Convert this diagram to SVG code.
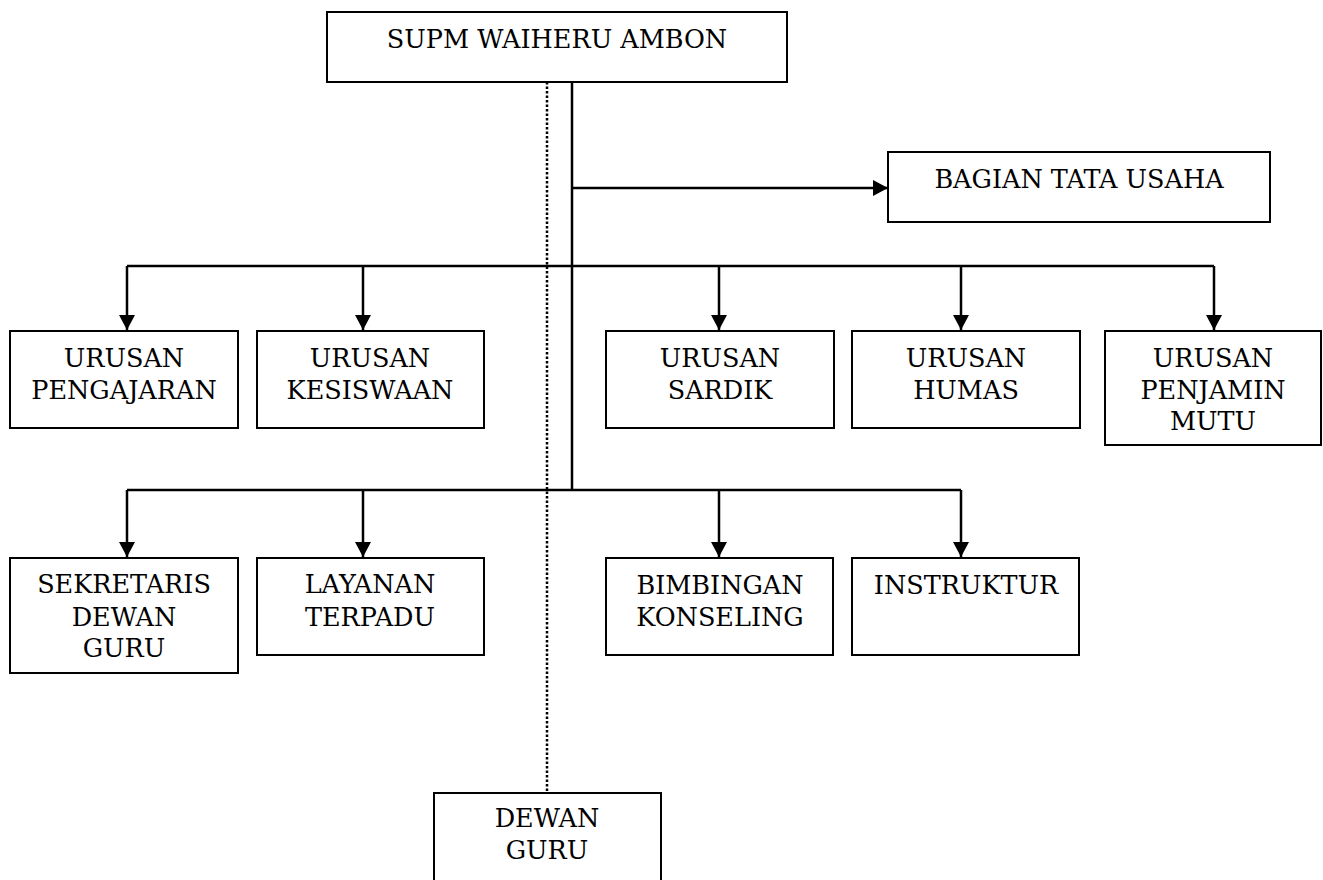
<svg xmlns="http://www.w3.org/2000/svg" width="1323" height="880" viewBox="0 0 1323 880">
<style>
.box{fill:#fff;stroke:#000;stroke-width:2}
.t{font-family:"DejaVu Serif","Liberation Serif",serif;font-size:25.5px;fill:#000;text-anchor:middle}
.c{fill:none;stroke:#000;stroke-width:2.5}
.d{fill:none;stroke:#000;stroke-width:2.5;stroke-dasharray:2.5 2}
</style>
<defs>
<marker id="arr" markerUnits="userSpaceOnUse" markerWidth="17" markerHeight="17" refX="15" refY="8" orient="auto">
<path d="M0,0 L15,8 L0,16 z" fill="#000"/>
</marker>
</defs>
<rect width="1323" height="880" fill="#fff"/>
<g id="connectors">
<path class="c" d="M572,82 V490"/>
<path class="c" d="M572,188 H888" marker-end="url(#arr)"/>
<path class="c" d="M127,266 H1214"/>
<path class="c" d="M127,266 V330" marker-end="url(#arr)"/>
<path class="c" d="M363,266 V330" marker-end="url(#arr)"/>
<path class="c" d="M719,266 V330" marker-end="url(#arr)"/>
<path class="c" d="M961,266 V330" marker-end="url(#arr)"/>
<path class="c" d="M1214,266 V330" marker-end="url(#arr)"/>
<path class="c" d="M127,490 H961"/>
<path class="c" d="M127,490 V557" marker-end="url(#arr)"/>
<path class="c" d="M363,490 V557" marker-end="url(#arr)"/>
<path class="c" d="M719,490 V557" marker-end="url(#arr)"/>
<path class="c" d="M961,490 V557" marker-end="url(#arr)"/>
<path class="d" d="M547,82 V793"/>
</g>
<g id="supm">
<rect class="box" x="327" y="12" width="460" height="70"/>
<text class="t" x="557" y="48">SUPM WAIHERU AMBON</text>
</g>
<g id="tata-usaha">
<rect class="box" x="888" y="152" width="382" height="70"/>
<text class="t" x="1079" y="188">BAGIAN TATA USAHA</text>
</g>
<g id="pengajaran">
<rect class="box" x="10" y="331" width="228" height="97"/>
<text class="t" x="124" y="367">URUSAN</text>
<text class="t" x="124" y="399">PENGAJARAN</text>
</g>
<g id="kesiswaan">
<rect class="box" x="257" y="331" width="227" height="97"/>
<text class="t" x="370" y="367">URUSAN</text>
<text class="t" x="370" y="399">KESISWAAN</text>
</g>
<g id="sardik">
<rect class="box" x="606" y="331" width="228" height="97"/>
<text class="t" x="720" y="367">URUSAN</text>
<text class="t" x="720" y="399">SARDIK</text>
</g>
<g id="humas">
<rect class="box" x="852" y="331" width="228" height="97"/>
<text class="t" x="966" y="367">URUSAN</text>
<text class="t" x="966" y="399">HUMAS</text>
</g>
<g id="penjamin-mutu">
<rect class="box" x="1105" y="331" width="216" height="114"/>
<text class="t" x="1213" y="367">URUSAN</text>
<text class="t" x="1213" y="399">PENJAMIN</text>
<text class="t" x="1213" y="430">MUTU</text>
</g>
<g id="sekretaris">
<rect class="box" x="10" y="558" width="228" height="115"/>
<text class="t" x="124" y="593">SEKRETARIS</text>
<text class="t" x="124" y="626">DEWAN</text>
<text class="t" x="124" y="657">GURU</text>
</g>
<g id="layanan">
<rect class="box" x="257" y="558" width="227" height="97"/>
<text class="t" x="370" y="593">LAYANAN</text>
<text class="t" x="370" y="626">TERPADU</text>
</g>
<g id="bimbingan">
<rect class="box" x="606" y="558" width="227" height="97"/>
<text class="t" x="720" y="594">BIMBINGAN</text>
<text class="t" x="720" y="626">KONSELING</text>
</g>
<g id="instruktur">
<rect class="box" x="852" y="558" width="227" height="97"/>
<text class="t" x="966" y="594">INSTRUKTUR</text>
</g>
<g id="dewan-guru">
<rect class="box" x="434" y="793" width="227" height="95"/>
<text class="t" x="547" y="827">DEWAN</text>
<text class="t" x="547" y="859">GURU</text>
</g>
</svg>
